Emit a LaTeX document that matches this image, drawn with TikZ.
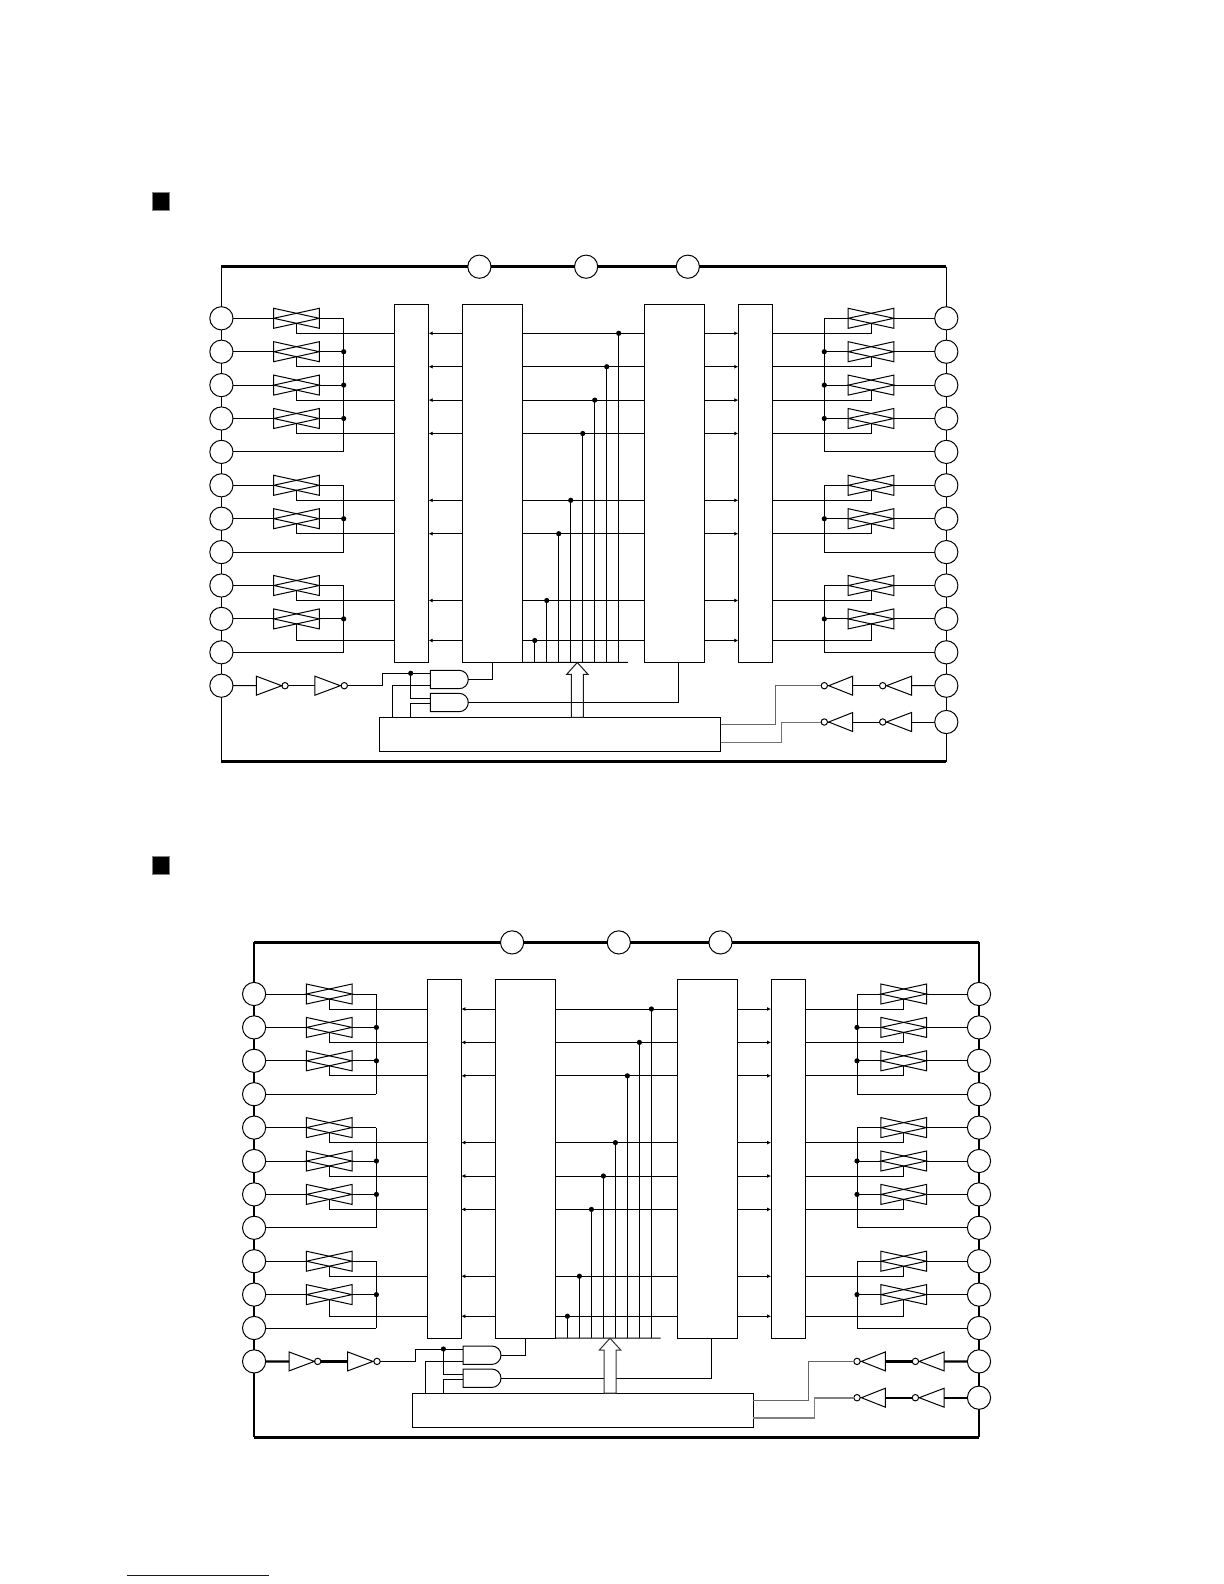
\documentclass[tikz,border=0pt]{standalone}
\usetikzlibrary{calc,positioning,arrows,arrows.meta}

\definecolor{footblue}{rgb}{0.05,0.05,0.55}

\tikzset{
  railwire/.style={},
  framewire/.style={line width=1.3pt,line cap=square},
  ctlwireA/.style={draw=black!60},
  ctlwireB/.style={draw=black!55},
  busarrow/.style={line width=0.5pt,draw=black!90},
  sigarrow/.style={-{Latex[length=2pt,width=2pt]}},
  pinnode/.style={circle,draw,line width=0.5pt,fill=white,inner sep=0pt,outer sep=0pt,minimum size=11.6pt},
  dotnode/.style={circle,fill=black,inner sep=0pt,outer sep=0pt,minimum size=2.6pt},
  bubnode/.style={circle,draw,line width=0.5pt,inner sep=0pt,outer sep=0pt,minimum size=3.2pt},
  blocknode/.style={rectangle,draw,inner sep=0pt,outer sep=0pt,minimum height=179.15pt},
  swnode/.style={rectangle,inner sep=0pt,outer sep=0pt,minimum width=22.8pt,minimum height=10pt},
  invnode/.style={rectangle,inner sep=0pt,outer sep=0pt,minimum width=12.5pt,minimum height=9.5pt},
  gatenode/.style={rectangle,inner sep=0pt,outer sep=0pt,minimum width=19pt,minimum height=9.2pt},
  headnode/.style={rectangle,draw=black!50,fill=black,inner sep=0pt,outer sep=0pt,minimum width=8.7pt,minimum height=9.2pt}
}

\newcommand{\swgate}[1]{
  \draw (#1.north west) -- (#1.south west) -- (#1.east) -- cycle;
  \draw (#1.north east) -- (#1.south east) -- (#1.west) -- cycle;
}
\newcommand{\invright}[1]{
  \draw (#1.north west) -- (#1.south west) -- (#1.east) -- cycle;
}
\newcommand{\invleft}[1]{
  \draw (#1.north east) -- (#1.south east) -- (#1.west) -- cycle;
}
\newcommand{\andgate}[1]{
  \draw (#1.north west) -- ++(28.8,0) arc[start angle=90,end angle=-90,radius=4.6pt] -- (#1.south west) -- cycle;
}

\newcommand{\drawchip}[2]{
  \coordinate (tl) at (221.4,266.7);
  \coordinate (tr) at (946.3,266.7);
  \coordinate (bl) at (221.4,761.7);
  \coordinate (br) at (946.3,761.7);
  \node[pinnode] (t1) at (479.4,266.7) {};
  \node[pinnode] (t2) at (586.1,266.7) {};
  \node[pinnode] (t3) at (687.8,266.7) {};
  \foreach \r in {1,...,12}{
    \pgfmathsetmacro\rowy{318.3+33.4*(\r-1)}
    \node[pinnode] (l\r) at (221.4,\rowy) {};
    \node[pinnode] (r\r) at (946.3,\rowy) {};
  }
  \node[pinnode] (r13) at (946.3,722) {};
  \draw[framewire] (tl) -- (t1) -- (t2) -- (t3) -- (tr);
  \draw[framewire] (bl) -- (br);
  \draw[railwire] (tl) -- (l1);
  \draw[railwire] (tr) -- (r1);
  \foreach \r [count=\n from 2] in {1,...,11}{
    \draw[railwire] (l\r) -- (l\n);
  }
  \foreach \r [count=\n from 2] in {1,...,12}{
    \draw[railwire] (r\r) -- (r\n);
  }
  \draw[railwire] (l12) -- (bl);
  \draw[railwire] (r13) -- (br);

  \node[blocknode,minimum width=17.2pt] (bkA) at (411.5,483.2) {};
  \node[blocknode,minimum width=30.2pt] (bkB) at (492.5,483.2) {};
  \node[blocknode,minimum width=30pt] (bkC) at (674.3,483.2) {};
  \node[blocknode,minimum width=17pt] (bkD) at (755.3,483.2) {};
  \node[rectangle,draw,inner sep=0pt,outer sep=0pt,minimum width=170.7pt,minimum height=17pt] (ctrl) at (550,734.3) {};

  \foreach \r in {#1}{
    \pgfmathsetmacro\tapy{318.3+33.4*(\r-1)+(\r==10?21.6:15)}
    \coordinate (tap\r) at (0,\tapy);
    \draw[sigarrow] (bkB.west |- tap\r) -- (bkA.east |- tap\r);
    \draw (bkB.east |- tap\r) -- (bkC.west |- tap\r);
    \draw[sigarrow] (bkC.east |- tap\r) -- (bkD.west |- tap\r);
  }
  \foreach \r [count=\i from 0] in {#1}{
    \pgfmathsetmacro\tapy{318.3+33.4*(\r-1)+(\r==10?21.6:15)}
    \pgfmathsetmacro\vx{618.7-12*\i}
    \node[dotnode] (dt\r) at (\vx,\tapy) {};
    \draw (dt\r.center) -- (dt\r |- bkB.south);
  }
  \coordinate (busEnd) at (628,662.3);
  \draw (bkB.south east) -- (busEnd);

  \foreach \gfirst/\glast in {#2}{
    \foreach \r in {\gfirst,...,\glast}{
      \pgfmathsetmacro\rowy{318.3+33.4*(\r-1)}
      \coordinate (busl\r) at (343.7,\rowy);
      \coordinate (busr\r) at (824.3,\rowy);
      \ifnum\r=\glast
        \draw (l\r) -- (busl\r);
        \draw (r\r) -- (busr\r);
      \else
        \node[swnode] (swl\r) at (296.5,\rowy) {};
        \node[swnode] (swr\r) at (871,\rowy) {};
        \swgate{swl\r}
        \swgate{swr\r}
        \draw (l\r) -- (swl\r.west);
        \draw (swl\r.east) -- (busl\r);
        \draw (r\r) -- (swr\r.east);
        \draw (swr\r.west) -- (busr\r);
        \draw ([yshift=-2.5pt]swl\r.center) |- (bkA.west |- tap\r);
        \draw ([yshift=-2.5pt]swr\r.center) |- (bkD.east |- tap\r);
      \fi
      \ifnum\r>\gfirst \ifnum\r<\glast
        \node[dotnode] (dotl\r) at (busl\r) {};
        \node[dotnode] (dotr\r) at (busr\r) {};
      \fi\fi
    }
    \draw (busl\gfirst) -- (busl\glast);
    \draw (busr\gfirst) -- (busr\glast);
  }

  \node[invnode,minimum width=12.7pt] (invla) at (269,685.7) {};
  \node[bubnode] (bubla) at (285,685.7) {};
  \node[invnode,minimum width=12.7pt] (invlb) at (327.6,685.7) {};
  \node[bubnode] (bublb) at (344.3,685.7) {};
  \invright{invla}
  \invright{invlb}
  \draw[railwire] (l12) -- (invla.west);
  \draw[railwire] (bubla) -- (invlb.west);
  \draw (invla.east) -- (bubla);
  \draw (invlb.east) -- (bublb);

  \node[gatenode] (and1) at (449.3,679.5) {};
  \node[gatenode] (and2) at (449.3,702.5) {};
  \andgate{and1}
  \andgate{and2}
  \coordinate (enA) at (382.3,685.7);
  \coordinate (and1a) at (and1.west |- 0,673.3);
  \coordinate (and1b) at (and1.west |- 0,685.7);
  \coordinate (and2a) at (and2.west |- 0,698.3);
  \coordinate (and2b) at (and2.west |- 0,703.3);
  \coordinate (ct1) at (392.7,717.3);
  \coordinate (ct2) at (410.7,717.3);
  \coordinate (cIn) at (678.3,662.3);
  \node[dotnode] (enD) at (410.7,673.3) {};
  \draw (bublb) -- (enA) |- (and1a);
  \draw (enD.center) |- (and2a);
  \draw (and1b) -| (ct1);
  \draw (and2b) -| (ct2);
  \draw (and1.east) -| (bkB.south);
  \draw (and2.east) -| (cIn);

  \coordinate (busTip) at (577.3,662.5);
  \draw[busarrow] (busTip) -- ++(10.7,11.8) -- ++(-4.7,0) -- ++(0,43) -- ++(-12,0) -- ++(0,-43) -- ++(-4.6,0) -- cycle;

  \foreach \r/\y in {12/685.7,13/722}{
    \node[invnode] (invra\r) at (899,\y) {};
    \node[bubnode] (bubra\r) at (882.7,\y) {};
    \node[invnode,minimum width=12pt] (invrb\r) at (840.7,\y) {};
    \node[bubnode] (bubrb\r) at (824.3,\y) {};
    \invleft{invra\r}
    \invleft{invrb\r}
    \draw[railwire] (r\r) -- (invra\r.east);
    \draw[railwire] (bubra\r) -- (invrb\r.east);
    \draw (invra\r.west) -- (bubra\r);
    \draw (invrb\r.west) -- (bubrb\r);
  }
  \coordinate (crA) at (775.3,685.7);
  \coordinate (crB) at (781.7,722);
  \coordinate (ctrlA) at (ctrl.east |- 0,724.3);
  \coordinate (ctrlB) at (ctrl.east |- 0,742);
  \draw[ctlwireA] (bubrb12) -- (crA) |- (ctrlA);
  \draw[ctlwireB] (bubrb13) -- (crB) |- (ctrlB);
}

\begin{document}
\begin{tikzpicture}[x=0.5pt,y=-0.5pt,line width=0.5pt]
\useasboundingbox (0,0) rectangle (1224,1584);

\node[headnode] (hdA) at (160.9,201.5) {};
\node[headnode] (hdB) at (161,865.5) {};

\begin{scope}[name prefix=u-]
\drawchip{1,2,3,4,6,7,9,10}{1/5,6/8,9/11}
\end{scope}

\begin{scope}[name prefix=v-,shift={(32.7,675.7)},
  railwire/.style={line width=1.1pt},
  busarrow/.style={line width=0.5pt,draw=black!80,fill=white},
  ctlwireB/.style={draw=black!50,line width=0.8pt}]
\drawchip{1,2,3,5,6,7,9,10}{1/4,5/8,9/11}
\end{scope}

\coordinate (ftA) at (127,1575.3);
\coordinate (ftB) at (269,1575.3);
\draw[footblue] (ftA) -- (ftB);
\end{tikzpicture}
\end{document}
